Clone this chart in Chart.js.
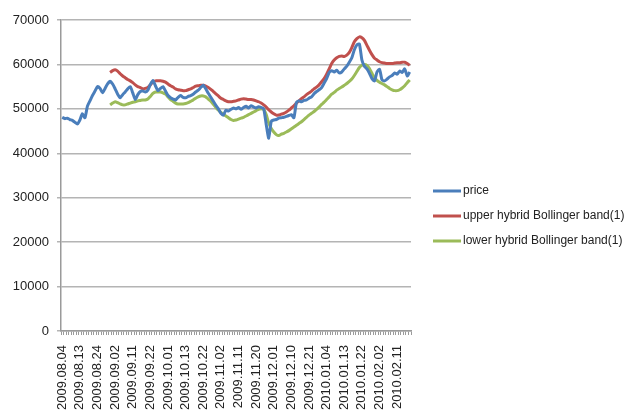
<!DOCTYPE html>
<html>
<head>
<meta charset="utf-8">
<script src="https://cdn.jsdelivr.net/npm/chart.js@4"></script>
<style>
  body { margin: 0; background: #fff; }
  #wrap { width: 640px; height: 413px; }
</style>
</head>
<body>
<div id="wrap"><canvas id="lineChart" width="640" height="413"></canvas></div>
<script>
// tick labels shown every 7 trading days
const tickLabels = ['2009.08.04', '2009.08.13', '2009.08.24', '2009.09.02', '2009.09.11',
    '2009.09.22', '2009.10.01', '2009.10.13', '2009.10.22', '2009.11.02', '2009.11.11',
    '2009.11.20', '2009.12.01', '2009.12.10', '2009.12.21', '2010.01.04', '2010.01.13',
    '2010.01.22', '2010.02.02', '2010.02.11'];
const labelStep = 7;

const price = [
    48100, 47800, 47900, 47600, 47400, 47000, 46600, 47500, 48900, 48000,
    50600, 51800, 53000, 54000, 55000, 54600, 53600, 54600, 55600, 56200,
    55600, 54500, 53300, 52500, 53200, 53800, 54500, 55000, 53600, 52100,
    53200, 53900, 54000, 53800, 54200, 55500, 56400, 55200, 54100, 54600,
    55000, 54000, 53000, 52500, 52200, 52000, 52600, 53000, 52600, 52500,
    52800, 53000, 53300, 53800, 54200, 54800, 55300, 54500, 53500, 52600,
    51700, 50800, 50000, 49000, 48600, 49700, 49500, 49900, 50200, 50000,
    50300, 49900, 50300, 50600, 50200, 50700, 50400, 50200, 50500, 50300,
    50000, 46500, 43400, 47200, 47500, 47600, 47900, 48000, 48100, 48300,
    48500, 48700, 48000, 51400, 51800, 51600, 51900, 52000, 52400, 52700,
    53400, 53900, 54300, 54800, 55800, 56800, 58200, 58600, 58300, 58700,
    58100, 58300, 59000, 59600, 60500, 61500, 63300, 64400, 64600, 61000,
    59600, 59000, 58000, 56800, 56300, 58300, 58900, 56500, 56300, 56700,
    57200, 57500, 58100, 57800, 58500, 58200, 59000, 57400, 58300
];

const upperBand = [
    null, null, null, null, null, null, null, null, null, null,
    null, null, null, null, null, null, null, null, null, 58200,
    58600, 58800, 58500, 57900, 57400, 57000, 56600, 56300, 55900, 55400,
    55000, 54800, 54500, 54600, 54800, 55400, 56100, 56300, 56300, 56300,
    56200, 56000, 55600, 55200, 54900, 54500, 54300, 54200, 54100, 54100,
    54300, 54500, 54800, 55100, 55200, 55300, 55300, 55100, 54800, 54400,
    53900, 53400, 52900, 52400, 52100, 51800, 51600, 51600, 51700, 51800,
    52000, 52200, 52300, 52200, 52100, 52100, 52000, 51800, 51600, 51300,
    50900, 50400, 49800, 49300, 48900, 48600, 48600, 48800, 49000, 49300,
    49700, 50200, 50700, 51300, 51800, 52300, 52700, 53200, 53600, 54000,
    54500, 54900, 55400, 56100, 56800, 57800, 59000, 60200, 61000, 61500,
    61800, 61900, 61800, 62100, 62700, 63800, 65100, 65800, 66200, 66000,
    65400, 64300, 63200, 62200, 61400, 61000, 60600, 60400, 60300, 60200,
    60200, 60200, 60300, 60400, 60400, 60500, 60500, 60200, 59800
];

const lowerBand = [
    null, null, null, null, null, null, null, null, null, null,
    null, null, null, null, null, null, null, null, null, 50900,
    51300, 51600, 51400, 51100, 50900, 50900, 51100, 51300, 51500, 51600,
    51800, 51900, 52000, 52000, 52200, 52800, 53500, 53800, 53800, 53800,
    53600, 53300, 52700, 52100, 51700, 51300, 51100, 51100, 51100, 51200,
    51400, 51700, 52000, 52400, 52700, 52900, 52900, 52700, 52200, 51700,
    51000, 50300, 49700, 49200, 48700, 48400, 48000, 47600, 47400, 47500,
    47700, 47900, 48100, 48400, 48700, 49000, 49300, 49600, 49900, 50000,
    49900, 48700, 46800, 45600, 44800, 44200, 44000, 44300, 44500, 44800,
    45100, 45500, 45900, 46300, 46700, 47100, 47600, 48100, 48600, 49000,
    49400, 49900, 50400, 51000, 51500, 52100, 52700, 53300, 53700, 54200,
    54600, 54900, 55300, 55700, 56200, 56700, 57500, 58400, 59300, 59800,
    60000, 59800, 59100, 58000, 57000, 56400, 56000, 55700, 55400, 55000,
    54600, 54300, 54100, 54100, 54300, 54700, 55200, 55900, 56500
];

const seriesNames = ['price', 'upper hybrid Bollinger band(1)', 'lower hybrid Bollinger band(1)'];
const seriesColors = ['#4a7ebb', '#c0504d', '#9bbb59'];

// one category per trading day, only every 7th one carries a label
const categories = price.map((v, i) => (i % labelStep === 0 ? (tickLabels[i / labelStep] || '') : ''));

// Legend drawn at the right, like the Excel original
const sideLegend = {
    id: 'sideLegend',
    afterDraw(chart) {
        const ctx = chart.ctx;
        ctx.save();
        ctx.font = '12px "Liberation Sans", Arial, sans-serif';
        ctx.textBaseline = 'middle';
        seriesNames.forEach((name, i) => {
            const y = 191 + i * 25;
            ctx.strokeStyle = seriesColors[i];
            ctx.lineWidth = 3;
            ctx.beginPath();
            ctx.moveTo(433, y);
            ctx.lineTo(461, y);
            ctx.stroke();
            ctx.fillStyle = '#222';
            ctx.fillText(name, 463, y);
        });
        ctx.restore();
    }
};

const lineChartCtx = document.getElementById('lineChart').getContext('2d');
const lineChart = new Chart(lineChartCtx, {
    type: 'line',
    data: {
        labels: categories,
        datasets: [price, upperBand, lowerBand].map((d, i) => ({
            label: seriesNames[i],
            data: d,
            borderColor: seriesColors[i],
            borderWidth: 3,
            pointRadius: 0,
            tension: 0.2,
            fill: false
        }))
    },
    options: {
        responsive: false,
        animation: false,
        layout: {
            padding: { top: 20, right: 229, left: 0, bottom: 0 }
        },
        plugins: {
            legend: { display: false },
            tooltip: { enabled: false }
        },
        scales: {
            x: {
                offset: true,
                grid: {
                    offset: true,
                    drawOnChartArea: false,
                    drawTicks: true,
                    tickLength: 4,
                    color: '#9a9a9a'
                },
                border: { color: '#9a9a9a', width: 1.5 },
                ticks: {
                    autoSkip: false,
                    minRotation: 90,
                    maxRotation: 90,
                    padding: 10,
                    color: '#222',
                    font: { family: '"Liberation Sans", Arial, sans-serif', size: 13 }
                },
                afterFit: (scale) => { scale.height = 82; }
            },
            y: {
                min: 0,
                max: 70000,
                ticks: {
                    stepSize: 10000,
                    padding: 8,
                    color: '#222',
                    font: { family: '"Liberation Sans", Arial, sans-serif', size: 13 },
                    callback: (value) => String(value)
                },
                grid: {
                    color: '#b4b4b4',
                    lineWidth: 1.5,
                    tickLength: 4
                },
                border: { color: '#9a9a9a', width: 1.5 },
                afterFit: (scale) => { scale.width = 61; }
            }
        }
    },
    plugins: [sideLegend]
});
</script>
</body>
</html>
